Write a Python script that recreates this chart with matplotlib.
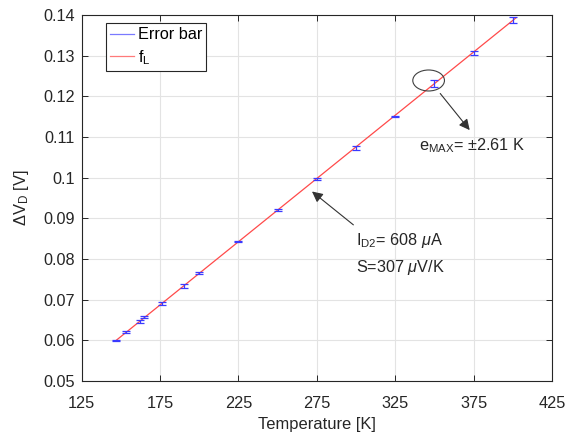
import numpy as np
import matplotlib
matplotlib.use('Agg')
import matplotlib.pyplot as plt
from matplotlib.patches import Ellipse
from matplotlib.lines import Line2D

# fontes parecidas com o matlab
plt.rcParams['font.family'] = ['Liberation Sans', 'DejaVu Sans']
plt.rcParams['mathtext.fontset'] = 'custom'
plt.rcParams['mathtext.rm'] = 'Liberation Sans'
plt.rcParams['mathtext.it'] = 'Liberation Sans:italic'

temperatura = [147, 153, 162, 165, 176, 190, 200, 225, 250, 275, 300, 325, 350, 375, 400]
dV = [0.0600, 0.0621, 0.0646, 0.0657, 0.0691, 0.0733, 0.0765, 0.0843,
      0.0920, 0.0997, 0.1074, 0.1150, 0.1232, 0.1307, 0.1388]
erro = [0.0002, 0.0003, 0.0003, 0.0003, 0.0004, 0.0005, 0.0003, 0.0002,
        0.0002, 0.0003, 0.0005, 0.0002, 0.0008, 0.0005, 0.0007]

# reta ajustada f_L (extremos)
fit_T = [147, 402]
fit_V = [0.0600, 0.1393]

xticks = [125, 175, 225, 275, 325, 375, 425]
yticks = [0.05, 0.06, 0.07, 0.08, 0.09, 0.1, 0.11, 0.12, 0.13, 0.14]

azul = '#3a3aff'
vermelho = '#ff4a4a'
cinza = '#262626'

fig = plt.figure(figsize=(5.65, 4.34), dpi=100)
ax = fig.add_axes([0.1446, 0.1221, 0.8324, 0.8433])

ax.errorbar(temperatura, dV, yerr=erro, fmt='none', ecolor=azul, elinewidth=0.9,
            capsize=2.6, capthick=0.9, zorder=3)
ax.plot(fit_T, fit_V, color=vermelho, lw=0.9, zorder=2)

ax.set_xlim(125, 425)
ax.set_ylim(0.05, 0.14)
ax.set_xticks(xticks)
ax.set_yticks(yticks)
ax.set_xticklabels([str(t) for t in xticks])
ax.set_yticklabels(['%g' % v for v in yticks])
ax.tick_params(direction='in', top=True, right=True, length=4, width=0.7,
               colors=cinza, labelsize=11.7)
ax.tick_params(axis='x', pad=11)
ax.tick_params(axis='y', pad=5)
ax.grid(True, color='#e3e3e3', lw=0.8)
ax.set_axisbelow(True)
for s in ax.spines.values():
    s.set_color(cinza)
    s.set_linewidth(0.8)

ax.set_xlabel('Temperature [K]', fontsize=11.9, color=cinza, labelpad=4)
ax.set_ylabel(r'$\Delta$V$_{\mathrm{D}}$ [V]', fontsize=11.9, color=cinza, labelpad=9)

# legenda
handles = [Line2D([], [], color='#7a7aff', lw=0.9),
           Line2D([], [], color='#ff7a7a', lw=0.9)]
leg = ax.legend(handles, ['Error bar', r'f$_{\mathrm{L}}$'], loc='upper left',
                bbox_to_anchor=(0.0517, 0.977), borderaxespad=0, borderpad=0.25,
                labelspacing=0.35, handlelength=1.5, handletextpad=0.2,
                fancybox=False, framealpha=1, edgecolor=cinza, fontsize=11.7)
leg.get_frame().set_linewidth(0.8)

# elipse no erro maximo
ax.add_patch(Ellipse((346.3, 0.1239), 20.2, 0.00516, fill=False,
                     edgecolor='#404040', lw=0.8, zorder=4))

seta = dict(arrowstyle='-|>', color='#333333', lw=0.8, mutation_scale=16,
            shrinkA=0, shrinkB=0)
ax.annotate('', xy=(372.5, 0.1117), xytext=(353.7, 0.1207), arrowprops=seta)
ax.text(340.4, 0.1068, r'e$_{\mathrm{MAX}}$= ±2.61 K', fontsize=11.7,
        color=cinza, va='baseline', ha='left')

ax.annotate('', xy=(271.9, 0.0966), xytext=(298.3, 0.0884), arrowprops=seta)
ax.text(300, 0.0834, r'I$_{\mathrm{D2}}$= 608 $\mu$A', fontsize=11.7,
        color=cinza, va='baseline', ha='left')
ax.text(300, 0.0769, r'S=307 $\mu$V/K', fontsize=11.7,
        color=cinza, va='baseline', ha='left')

plt.savefig('out.png', dpi=100)
